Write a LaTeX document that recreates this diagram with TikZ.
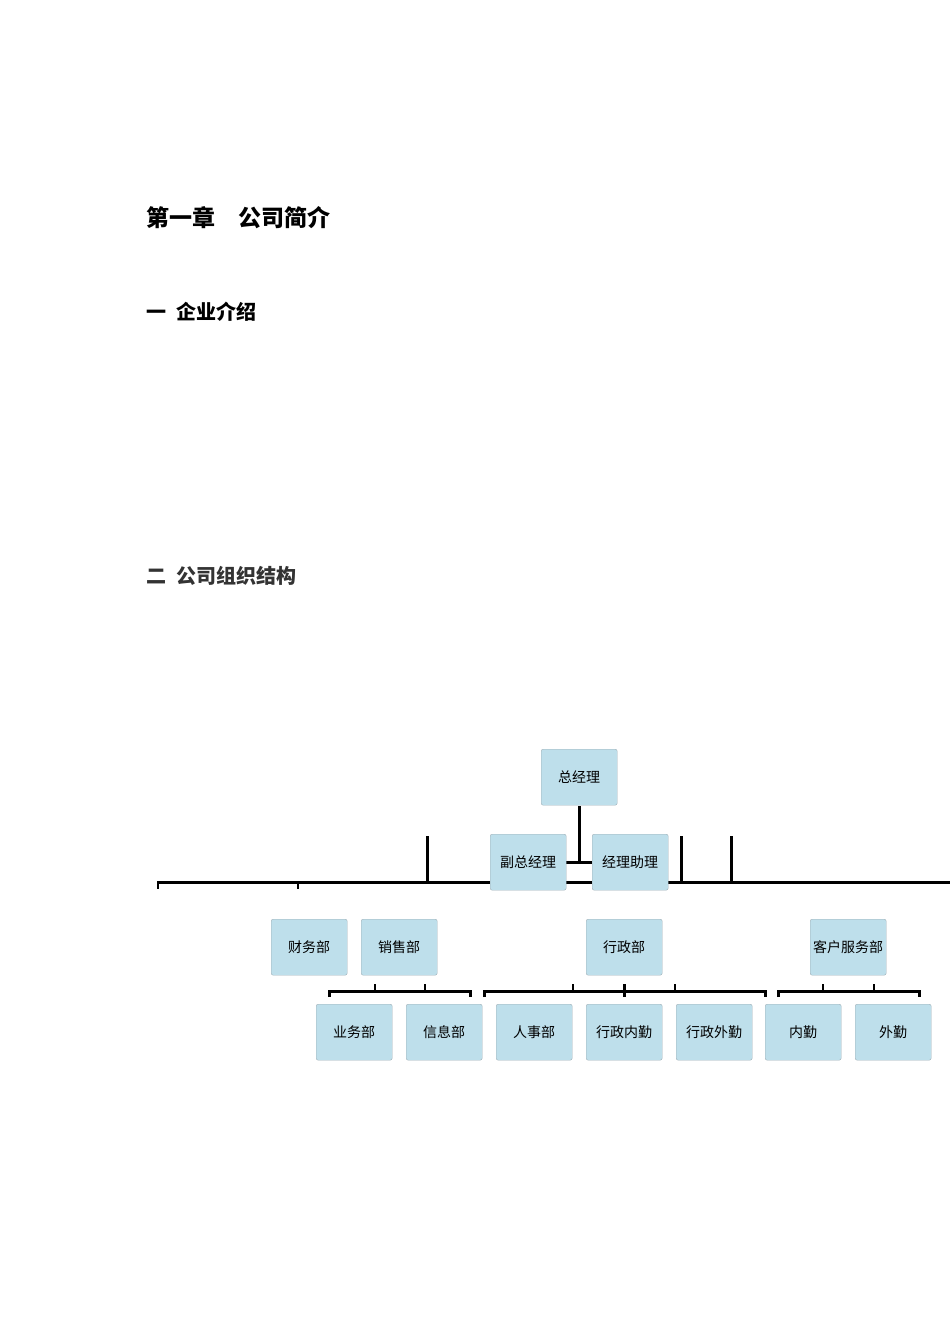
\documentclass[tikz,border=0pt]{standalone}
\usepackage{fontspec}
\newfontfamily\cjk{Noto Sans CJK SC}
\begin{document}
\begin{tikzpicture}[x=1pt,y=-1pt,
 box/.style={draw=black!35!cyan!30!gray!70,fill=cyan!15!white!85!teal,rounded corners=2pt,minimum width=76pt,minimum height=56pt,inner sep=0pt,font=\cjk\fontsize{14}{14}\selectfont,anchor=north west},
 ln/.style={line width=3pt},
 tick/.style={line width=2pt}]
\useasboundingbox (0,0) rectangle (950,1344);
\node[anchor=west,font=\cjk\bfseries\fontsize{23}{23}\selectfont] (t1) at (143,218) {第一章\hspace{1em}公司简介};
\node[anchor=west,font=\cjk\bfseries\fontsize{20}{20}\selectfont] (t2) at (143,312) {一\hspace{0.5em}企业介绍};
\node[anchor=west,font=\cjk\bfseries\fontsize{20}{20}\selectfont,text=black!80] (t3) at (143,576) {二\hspace{0.5em}公司组织结构};
% lines
\coordinate (hL) at (158,882); \coordinate (hR) at (950,882);
\draw[ln] (579,806) -- (579,862);
\draw[ln] (566,862) -- (592,862);
\draw[ln] (hL) -- (hR);
\draw[tick] (158,881) -- (158,889);
\draw[tick] (298,881) -- (298,889);
\draw[ln] (427,836) -- (427,882);
\draw[ln] (681,836) -- (681,882);
\draw[ln] (731,836) -- (731,882);
% brackets
\draw[ln] (329,997) -- (329,991) -- (470,991) -- (470,997);
\draw[tick] (375,984) -- (375,991); \draw[tick] (425,984) -- (425,991);
\draw[ln] (484,997) -- (484,991) -- (765,991) -- (765,997);
\draw[tick] (573,984) -- (573,991); \draw[tick] (675,984) -- (675,991);
\draw[ln] (624,984) -- (624,997);
\draw[ln] (778,997) -- (778,991) -- (919,991) -- (919,997);
\draw[tick] (823,984) -- (823,991); \draw[tick] (874,984) -- (874,991);
% boxes
\node[box] (gm) at (541,749) {总经理};
\node[box] (vgm) at (490,834) {副总经理};
\node[box] (as) at (592,834) {经理助理};
\node[box] (cw) at (271,919) {财务部};
\node[box] (xs) at (361,919) {销售部};
\node[box] (xz) at (586,919) {行政部};
\node[box] (kf) at (810,919) {客户服务部};
\node[box] (yw) at (316,1004) {业务部};
\node[box] (xx) at (406,1004) {信息部};
\node[box] (rs) at (496,1004) {人事部};
\node[box] (nq) at (586,1004) {行政内勤};
\node[box] (wq) at (676,1004) {行政外勤};
\node[box] (n2) at (765,1004) {内勤};
\node[box] (w2) at (855,1004) {外勤};
\end{tikzpicture}
\end{document}
